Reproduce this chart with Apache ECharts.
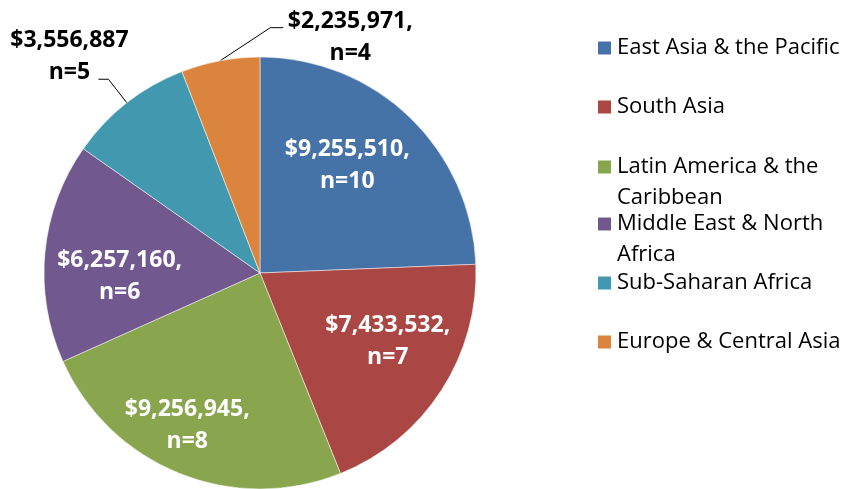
<!DOCTYPE html>
<html>
<head>
<meta charset="utf-8">
<script src="https://cdn.jsdelivr.net/npm/echarts@6/dist/echarts.min.js"></script>
<style>
html,body{margin:0;padding:0;background:#fff;}
#chart{width:855px;height:489px;}
</style>
</head>
<body>
<div id="chart"></div>
<script>
// ---- data ----
const categories = ['East Asia & the Pacific', 'South Asia', 'Latin America & the Caribbean', 'Middle East & North Africa', 'Sub-Saharan Africa', 'Europe & Central Asia'];
const values = [9255510, 7433532, 9256945, 6257160, 3556887, 2235971];
const counts = [10, 7, 8, 6, 5, 4];
const dollarLabels = ['$9,255,510,', '$7,433,532,', '$9,256,945,', '$6,257,160,', '$3,556,887', '$2,235,971,'];
const legendLines = [['East Asia & the Pacific'], ['South Asia'], ['Latin America & the', 'Caribbean'], ['Middle East & North', 'Africa'], ['Sub-Saharan Africa'], ['Europe & Central Asia']];

// ---- style ----
const colors = ['#4572A7', '#AA4643', '#89A54E', '#71588F', '#4198AF', '#DB843D'];
const CX = 260, CY = 273, R = 216;
const FONT = '"Open Sans", "DejaVu Sans", sans-serif';
const insideRadius = [0.64, 0.67, 0.78, 0.65];
const insideNudge = [-4.7, -4.9, 3.6, -7];
const legendCenters = [48, 107, 167, 224, 283, 342];
const LEG_LH = 31;

const total = values.reduce((a, b) => a + b, 0);
const midAngles = [];
let acc = 0;
values.forEach(v => { midAngles.push((acc + v / 2) / total * 360); acc += v; });
const rad = d => d * Math.PI / 180;

const data = categories.map((c, i) => {
  const item = { name: c, value: values[i], itemStyle: { color: colors[i] } };
  if (i >= 4) {
    item.label = { position: 'outside', color: '#000' };
    item.labelLine = { show: true };
  }
  return item;
});

const legends = categories.map((c, i) => {
  const lines = legendLines[i];
  const nLines = lines.length === 1 ? 1 : 3;
  return {
    orient: 'vertical',
    left: 596,
    top: legendCenters[i] - nLines * LEG_LH / 2,
    padding: 0,
    itemWidth: 15,
    itemHeight: 15,
    icon: 'rect',
    selectedMode: false,
    data: [c],
    formatter: () => lines.length === 1 ? lines[0] : '\n' + lines.join('\n'),
    textStyle: { fontFamily: FONT, fontSize: 22, color: '#000', lineHeight: LEG_LH }
  };
});

const chart = echarts.init(document.getElementById('chart'), null, { renderer: 'canvas' });
chart.setOption({
  animation: false,
  backgroundColor: '#fff',
  legend: legends,
  series: [{
    type: 'pie',
    center: [CX, CY],
    radius: R,
    startAngle: 90,
    clockwise: true,
    avoidLabelOverlap: false,
    emphasis: { disabled: true },
    itemStyle: { borderColor: '#fff', borderWidth: 0.5 },
    label: {
      show: true,
      position: 'inside',
      color: '#fff',
      fontFamily: FONT,
      fontWeight: 'bold',
      fontSize: 23,
      lineHeight: 32,
      formatter: p => dollarLabels[p.dataIndex] + '\nn=' + counts[p.dataIndex]
    },
    labelLine: { show: false, length: 30, length2: 10, lineStyle: { color: '#000', width: 1 } },
    labelLayout: function (params) {
      const i = params.dataIndex;
      if (i < 4) {
        const a = rad(midAngles[i] + insideNudge[i]);
        const f = insideRadius[i] * R;
        return { x: CX + f * Math.sin(a), y: CY - f * Math.cos(a), align: 'center', verticalAlign: 'middle' };
      }
      const p0 = params.labelLinePoints[0];
      if (i === 4) {
        const a = rad(midAngles[i]);
        const p1 = [p0[0] + 30 * Math.sin(a), p0[1] - 30 * Math.cos(a)];
        const p2 = [p1[0] - 10, p1[1]];
        return { x: p2[0] - 29, y: p2[1] - 23, align: 'center', verticalAlign: 'middle', labelLinePoints: [p0, p1, p2] };
      }
      const p1 = [p0[0] + 50, p0[1] - 33];
      const p2 = [p1[0] + 13, p1[1]];
      return { x: p2[0] + 67, y: p2[1] + 10, align: 'center', verticalAlign: 'middle', labelLinePoints: [p0, p1, p2] };
    },
    data: data
  }]
});
</script>
</body>
</html>
